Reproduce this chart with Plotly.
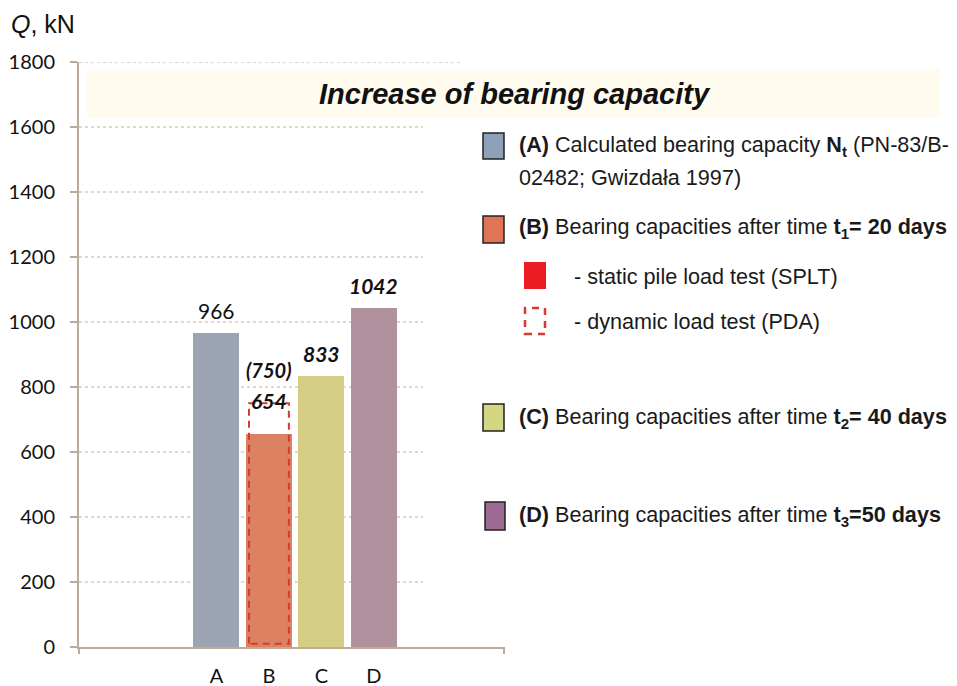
import plotly.graph_objects as go

# ---- data ----
categories = ["A", "B", "C", "D"]
capacity = [966, 654, 833, 1042]          # kN
pda_value = 750                            # dynamic load test for B
bar_colors = ["#9ca4b3", "#dc8262", "#d6cd85", "#b1919d"]
legend_colors = ["#8fa0b9", "#df7556", "#d4d682", "#9c6b93"]
label_texts = ["966", "654", "833", "1042"]
label_bold = [False, True, True, True]
y_ticks = [0, 200, 400, 600, 800, 1000, 1200, 1400, 1600, 1800]

W, H = 957, 686
L, R, T, B = 79, 504, 62, 647   # plot area in pixels


def px(x):
    return (x - L) / (R - L)


def py(y):
    return (B - y) / (B - T)


xpos = list(range(len(categories)))
bar_w = 0.876
x_range = [-2.62, 5.48]

fig = go.Figure()
fig.add_trace(go.Bar(
    x=xpos, y=capacity, width=bar_w,
    marker=dict(color=bar_colors, line=dict(width=0)),
    showlegend=False, hoverinfo="skip"))

# dashed PDA rectangle on bar B
bi = categories.index("B")
half = 0.38
inset = 10
fig.add_trace(go.Scatter(
    x=[bi - half, bi - half, bi + half, bi + half, bi - half],
    y=[inset, pda_value, pda_value, inset, inset],
    mode="lines", line=dict(color="#d93a2f", width=2, dash="7px,5px"),
    showlegend=False, hoverinfo="skip"))

annotations = []
# value labels
for i, (v, t, b) in enumerate(zip(capacity, label_texts, label_bold)):
    if categories[i] == "B":
        yy, shift = pda_value, 3
    else:
        yy, shift = v, 23
    txt = f"<b><i>{t}</i></b>" if b else t
    annotations.append(dict(x=i, y=yy, xref="x", yref="y", text=txt, showarrow=False,
                            yanchor="middle", yshift=shift,
                            font=dict(family="Lato", size=21, color="#111")))
annotations.append(dict(x=bi, y=pda_value, xref="x", yref="y", text="<b><i>(750)</i></b>",
                        showarrow=False, yanchor="middle", yshift=33,
                        font=dict(family="Lato", size=20, color="#111")))

# axis title
annotations.append(dict(x=px(9), y=py(24), xref="paper", yref="paper",
                        text="<i>Q</i>, kN", showarrow=False, xanchor="left", yanchor="middle",
                        font=dict(family="Liberation Sans", size=25, color="#111")))
# chart title
annotations.append(dict(x=px(515), y=py(94), xref="paper", yref="paper",
                        text="<b><i>Increase of bearing capacity</i></b>", showarrow=False,
                        xanchor="center", yanchor="middle",
                        font=dict(family="Liberation Sans", size=29, color="#111")))

lf = dict(family="Liberation Sans", size=21.6, color="#1a1a1a")
legend_lines = [
    (517, 146, "<b>(A)</b> Calculated bearing capacity <b>N<sub>t</sub></b> (PN-83/B-"),
    (517, 177, "02482; Gwizdała 1997)"),
    (517, 228, "<b>(B)</b> Bearing capacities after time <b>t<sub>1</sub>= 20 days</b>"),
    (572, 276, "- static pile load test (SPLT)"),
    (572, 321, "- dynamic load test (PDA)"),
    (517, 418, "<b>(C)</b> Bearing capacities after time <b>t<sub>2</sub>= 40 days</b>"),
    (517, 516, "<b>(D)</b> Bearing capacities after time <b>t<sub>3</sub>=50 days</b>"),
]
for x, y, t in legend_lines:
    annotations.append(dict(x=px(x), y=py(y), xref="paper", yref="paper", text=t,
                            showarrow=False, xanchor="left", yanchor="middle", font=lf))

shapes = []
# title box
shapes.append(dict(type="rect", xref="paper", yref="paper", x0=px(87), x1=px(940),
                   y0=py(118), y1=py(69), fillcolor="#fffbef", line=dict(width=0),
                   layer="below"))
# gridlines
for v in y_ticks[1:]:
    x_end = 460 if v == y_ticks[-1] else 423
    shapes.append(dict(type="line", xref="paper", yref="y", x0=0, x1=px(x_end), y0=v, y1=v,
                       line=dict(color="#c0ae9c", width=1, dash="dot"), layer="below"))
# x-axis end ticks
for xe in (0, 1):
    shapes.append(dict(type="line", xref="paper", yref="paper", x0=xe, x1=xe,
                       y0=0, y1=py(B + 7), line=dict(color="#bcab98", width=2)))
# legend icons
icons = [(483, 133, 504, 159, legend_colors[0]),
         (483, 216, 504, 243, legend_colors[1]),
         (483, 404, 504, 431, legend_colors[2]),
         (485, 502, 505, 530, legend_colors[3])]
for x0, y0, x1, y1, c in icons:
    shapes.append(dict(type="rect", xref="paper", yref="paper", x0=px(x0), x1=px(x1),
                       y0=py(y1), y1=py(y0), fillcolor=c, line=dict(color="#222", width=1.5)))
shapes.append(dict(type="rect", xref="paper", yref="paper", x0=px(524), x1=px(546),
                   y0=py(289), y1=py(262), fillcolor="#ec1c24", line=dict(width=0)))
shapes.append(dict(type="rect", xref="paper", yref="paper", x0=px(525), x1=px(545),
                   y0=py(334), y1=py(308), fillcolor="rgba(0,0,0,0)",
                   line=dict(color="#d93a2f", width=2.5, dash="7px,6px")))

fig.update_layout(
    width=W, height=H,
    margin=dict(l=L, r=W - R, t=T, b=H - B, autoexpand=False),
    paper_bgcolor="white", plot_bgcolor="white",
    bargap=0,
    xaxis=dict(range=x_range, tickvals=xpos, ticktext=categories, showgrid=False,
               zeroline=False, showline=True, linecolor="#bcab98", linewidth=2,
               ticks="", tickfont=dict(family="Lato", size=20, color="#111"),
               ticklabelstandoff=10, fixedrange=True, automargin=False),
    yaxis=dict(range=[0, 1800], tickvals=y_ticks, showgrid=False, zeroline=False,
               showline=True, linecolor="#bcab98", linewidth=2, ticks="outside",
               ticklen=7, tickcolor="#bcab98", tickwidth=2,
               tickfont=dict(family="Lato", size=20, color="#111"),
               ticklabelstandoff=11, fixedrange=True, automargin=False),
    annotations=annotations, shapes=shapes, showlegend=False,
)

fig.write_html("out.html", config={"displayModeBar": False},
               post_script="document.body.style.margin='0';document.body.style.overflow='hidden';")
